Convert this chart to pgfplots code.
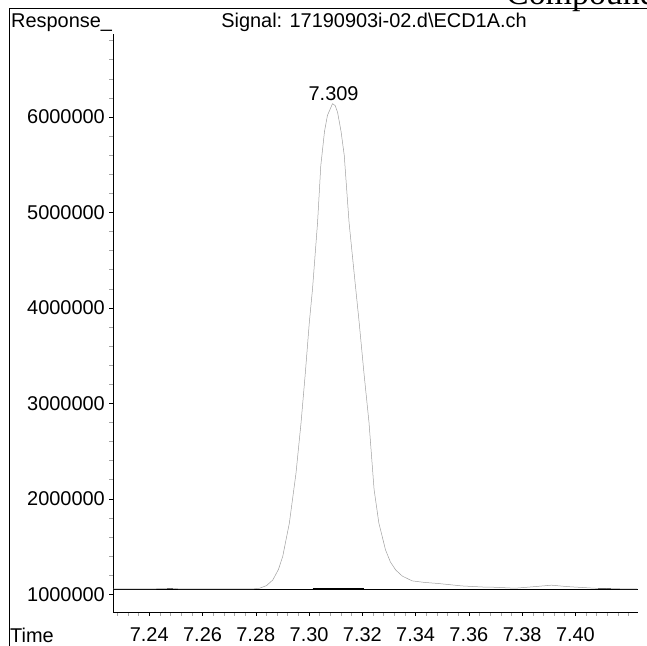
\documentclass[border=0pt]{standalone}
\usepackage{fontspec}
\setmainfont{Liberation Sans}
\newfontfamily\serifcut{Liberation Serif}
\usepackage{pgfplots}
\pgfplotsset{compat=1.18}

\begin{document}
\begin{tikzpicture}[x=1bp,y=1bp]
\useasboundingbox (0,0) rectangle (647,646);
% outer frame (left and top edges)
\draw[line width=1bp] (9,0) -- (9,637) -- (647,637);
\node[anchor=base west, inner sep=0, font=\serifcut\fontsize{34}{34}\selectfont] at (506,641) {Compound};
% header texts
\node[anchor=base west, inner sep=0, font=\fontsize{20}{24}\selectfont] at (11,618) {Response\_};
\node[anchor=base, inner sep=0, font=\fontsize{20}{24}\selectfont] at (374,618) {Signal: 17190903i-02.d\textbackslash ECD1A.ch};
\node[anchor=base west, inner sep=0, font=\fontsize{20}{24}\selectfont] at (10,3) {Time};

\begin{axis}[
    at={(113.3bp,34bp)}, anchor=south west,
    scale only axis,
    width=524.7bp, height=578bp,
    xmin=7.2265, xmax=7.4235,
    ymin=814000, ymax=6870000,
    axis lines*=left,
    axis line style={line width=0.8bp},
    tick align=outside,
    major tick length=4bp, minor tick length=4bp,
    tick style={line width=0.6bp, black},
    minor tick style={gray!70},
    xtick={7.24,7.26,...,7.401},
    minor xtick={7.228,7.232,7.236,7.244,7.248,7.252,7.256,7.264,7.268,7.272,7.276,7.284,7.288,7.292,7.296,7.304,7.308,7.312,7.316,7.324,7.328,7.332,7.336,7.344,7.348,7.352,7.356,7.364,7.368,7.372,7.376,7.384,7.388,7.392,7.396,7.404,7.408,7.412,7.416,7.42},
    ytick={1000000,2000000,3000000,4000000,5000000,6000000},
    minor ytick={1200000,1400000,1600000,1800000,2200000,2400000,2600000,2800000,3200000,3400000,3600000,3800000,4200000,4400000,4600000,4800000,5200000,5400000,5600000,5800000,6200000,6400000,6600000,6800000},
    scaled x ticks=false, scaled y ticks=false,
    tick label style={font=\fontsize{20}{24}\selectfont},
    /pgf/number format/assume math mode=true,
    xticklabel style={/pgf/number format/.cd, fixed, fixed zerofill, precision=2, /tikz/.cd, yshift=-8bp},
    yticklabel style={/pgf/number format/.cd, fixed, 1000 sep={}, /tikz/.cd, xshift=-1bp},
    clip=false,
]
% integration baseline
\addplot[black, line width=0.8bp] coordinates {(7.2265,1056000) (7.4235,1056000)};
\addplot[black, line width=2.5bp] coordinates {(7.3013,1056000) (7.3207,1056000)};
\addplot[black, line width=2.5bp] coordinates {(7.4085,1056000) (7.4135,1056000)};
\addplot[black, line width=2bp] coordinates {(7.2468,1057000) (7.2490,1057000)};
% signal trace
\addplot[gray!75, line width=0.5bp] coordinates {
(7.2265,1056000) (7.2470,1058000) (7.2490,1062000) (7.2510,1057000) (7.2700,1056000)
(7.2789,1056000) (7.2814,1063000) (7.2840,1090000) (7.2864,1150000) (7.2885,1260000)
(7.2901,1395000) (7.2926,1746000) (7.2951,2270000) (7.2970,2800000) (7.2986,3320000)
(7.3001,3850000) (7.3013,4200000) (7.3032,4900000) (7.3044,5490000) (7.3058,5850000)
(7.3069,6017000) (7.3088,6140000) (7.3098,6120000) (7.3107,6050000) (7.3120,5850000)
(7.3132,5600000) (7.3150,4900000) (7.3169,4370000) (7.3188,3850000) (7.3206,3320000)
(7.3225,2800000) (7.3244,2100000) (7.3262,1746000) (7.3287,1465000) (7.3305,1340000)
(7.3325,1255000) (7.3350,1190000) (7.3387,1140000) (7.3430,1125000) (7.3487,1112000)
(7.3512,1105000) (7.3574,1087000) (7.3650,1076000) (7.3699,1073000) (7.3773,1063000)
(7.3848,1080000) (7.3910,1095000) (7.3970,1080000) (7.4072,1063000) (7.4150,1058000)
(7.4232,1056000)};
\node[anchor=base, inner sep=0, font=\fontsize{20}{24}\selectfont] at (axis cs:7.3092,6140000) [yshift=3bp] {7.309};
\end{axis}
\end{tikzpicture}
\end{document}
